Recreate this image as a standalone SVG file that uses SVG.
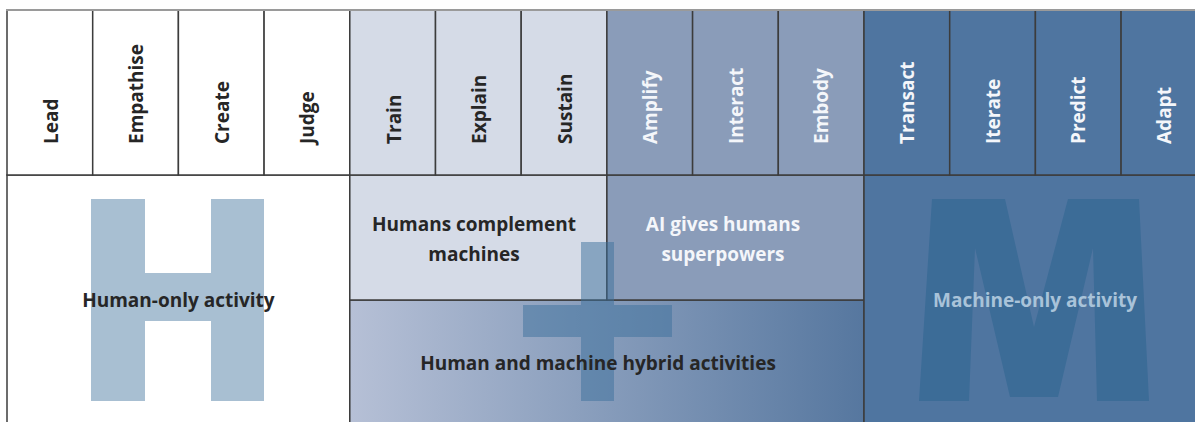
<svg xmlns="http://www.w3.org/2000/svg" width="1195" height="422" viewBox="0 0 1195 422">
<defs>
<linearGradient id="hyb" x1="0" y1="0" x2="1" y2="0">
<stop offset="0" stop-color="#b6c0d6"/>
<stop offset="1" stop-color="#56779f"/>
</linearGradient>
<style>
.cell{stroke:#3c3c3c;stroke-width:1.5}
.w{fill:#ffffff}.l{fill:#d5dbe7}.m{fill:#8a9cb9}.d{fill:#4f75a0}
.hl{font-family:"Open Sans","Liberation Sans",sans-serif;font-weight:bold;font-size:19px}
.lb{font-family:"Open Sans","Liberation Sans",sans-serif;font-weight:bold;font-size:19px;text-anchor:middle}
.dk{fill:#262626}.wt{fill:#f4f6fa}
</style>
</defs>
<rect width="1195" height="422" fill="#ffffff"/>

<g id="bottom-areas">
<g id="human-only">
<rect x="7" y="175" width="342.8" height="260" class="cell w"/>
<path d="M91 199H145V273H211V199H264V401H211V321H145V401H91Z" fill="#a8bfd2"/>
<text x="178.4" y="307" class="lb dk">Human-only activity</text>
</g>
<g id="hybrid">
<rect x="349.8" y="300" width="514.2" height="135" class="cell" fill="url(#hyb)"/>
</g>
<g id="humans-complement">
<rect x="349.8" y="175" width="257.1" height="125" class="cell l"/>
<text x="474" y="231" class="lb dk">Humans complement</text>
<text x="474" y="261" class="lb dk">machines</text>
</g>
<g id="ai-superpowers">
<rect x="606.9" y="175" width="257.1" height="125" class="cell m"/>
<text x="723" y="231" class="lb wt">AI gives humans</text>
<text x="723" y="261" class="lb wt">superpowers</text>
</g>
<path id="plus" d="M581 242H614V305H672V337H614V401H581V337H523V305H581Z" fill="#3b6f9c" fill-opacity="0.5"/>
<text x="598" y="370" class="lb dk">Human and machine hybrid activities</text>
<g id="machine-only">
<rect x="864" y="175" width="350" height="260" class="cell d"/>
<path d="M919 401L932 199H1005L1034 327L1068 199H1139L1149 401H1097L1093 248L1058 397H1010L975 248L969 401Z" fill="#3c6c97"/>
<text x="1035" y="307" class="lb" fill="#a9c3d9">Machine-only activity</text>
</g>
</g>

<g id="header">
<g id="h-lead"><rect x="7" y="10" width="85.7" height="165" class="cell w"/><text transform="translate(57.5,144) rotate(-90)" class="hl dk">Lead</text></g>
<g id="h-empathise"><rect x="92.7" y="10" width="85.7" height="165" class="cell w"/><text transform="translate(143,144) rotate(-90)" class="hl dk">Empathise</text></g>
<g id="h-create"><rect x="178.4" y="10" width="85.7" height="165" class="cell w"/><text transform="translate(229,144) rotate(-90)" class="hl dk">Create</text></g>
<g id="h-judge"><rect x="264.1" y="10" width="85.7" height="165" class="cell w"/><text transform="translate(313.5,144) rotate(-90)" class="hl dk">Judge</text></g>
<g id="h-train"><rect x="349.8" y="10" width="85.7" height="165" class="cell l"/><text transform="translate(400.5,144) rotate(-90)" class="hl dk">Train</text></g>
<g id="h-explain"><rect x="435.5" y="10" width="85.7" height="165" class="cell l"/><text transform="translate(486,144) rotate(-90)" class="hl dk">Explain</text></g>
<g id="h-sustain"><rect x="521.2" y="10" width="85.7" height="165" class="cell l"/><text transform="translate(571.5,144) rotate(-90)" class="hl dk">Sustain</text></g>
<g id="h-amplify"><rect x="606.9" y="10" width="85.7" height="165" class="cell m"/><text transform="translate(657,144) rotate(-90)" class="hl wt">Amplify</text></g>
<g id="h-interact"><rect x="692.6" y="10" width="85.7" height="165" class="cell m"/><text transform="translate(742.5,144) rotate(-90)" class="hl wt">Interact</text></g>
<g id="h-embody"><rect x="778.3" y="10" width="85.7" height="165" class="cell m"/><text transform="translate(828,144) rotate(-90)" class="hl wt">Embody</text></g>
<g id="h-transact"><rect x="864" y="10" width="85.7" height="165" class="cell d"/><text transform="translate(913.5,144) rotate(-90)" class="hl wt">Transact</text></g>
<g id="h-iterate"><rect x="949.7" y="10" width="85.7" height="165" class="cell d"/><text transform="translate(999.5,144) rotate(-90)" class="hl wt">Iterate</text></g>
<g id="h-predict"><rect x="1035.4" y="10" width="85.7" height="165" class="cell d"/><text transform="translate(1085,144) rotate(-90)" class="hl wt">Predict</text></g>
<g id="h-adapt"><rect x="1121.1" y="10" width="85.7" height="165" class="cell d"/><text transform="translate(1170.5,144) rotate(-90)" class="hl wt">Adapt</text></g>
<line x1="6" y1="10" x2="1195" y2="10" stroke="#9a9a9a" stroke-width="2"/>
</g>
</svg>
